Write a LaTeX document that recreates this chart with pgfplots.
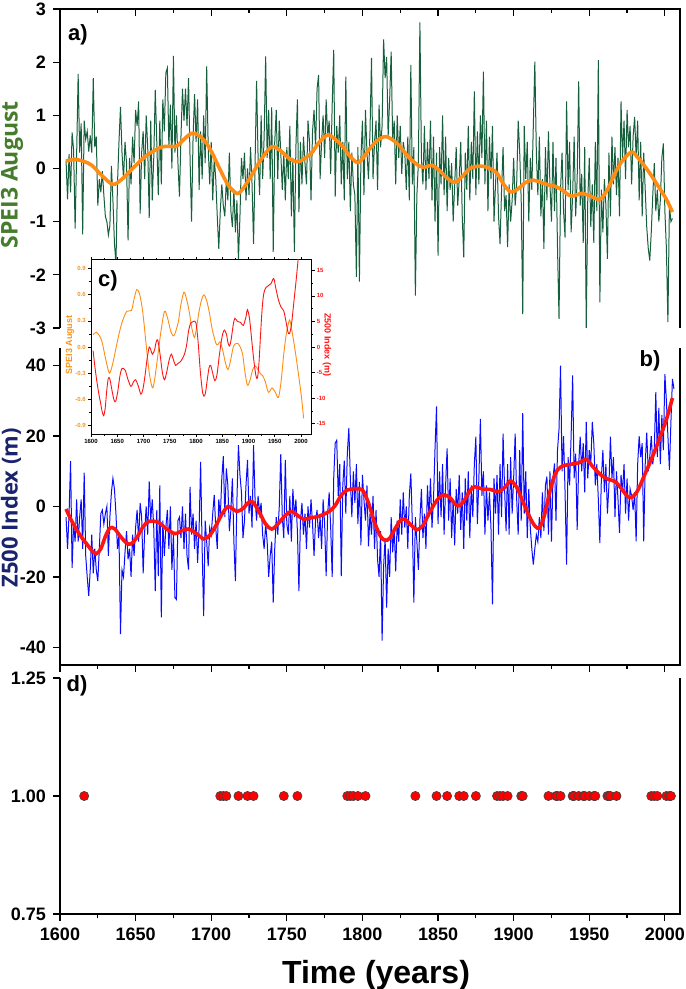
\documentclass[border=0pt]{standalone}
\usepackage{pgfplots}
\pgfplotsset{compat=1.18}
\usepackage{pgfplotstable}
\usepackage{fontspec}
\setmainfont{Liberation Sans}
\newfontfamily\osans{Open Sans}
\definecolor{spgreen}{RGB}{22,95,60}
\definecolor{sporange}{RGB}{255,140,20}
\definecolor{zred}{RGB}{255,20,20}
\definecolor{zblue}{RGB}{10,10,255}
\definecolor{lblgreen}{RGB}{70,125,45}
\definecolor{lblnavy}{RGB}{25,35,110}
\definecolor{inorange}{RGB}{247,148,29}

\pgfplotstableread{
x y
1604 0.14
1610 0.17
1616 0.13
1621 0.06
1628 -0.14
1635 -0.30
1641 -0.20
1647 -0.03
1653 0.14
1659 0.28
1668 0.41
1677 0.42
1682 0.55
1687 0.66
1692 0.62
1697 0.47
1701 0.27
1705 0.03
1711 -0.30
1717 -0.47
1721 -0.38
1726 -0.16
1733 0.17
1740 0.41
1746 0.33
1752 0.18
1758 0.13
1766 0.28
1771 0.48
1777 0.63
1782 0.55
1787 0.41
1792 0.22
1797 0.11
1801 0.22
1805 0.38
1810 0.53
1815 0.60
1820 0.54
1825 0.41
1831 0.20
1838 0.04
1842 0.03
1846 0.06
1851 -0.04
1856 -0.18
1861 -0.26
1866 -0.15
1871 0.00
1876 0.04
1880 0.04
1885 -0.01
1889 -0.09
1893 -0.28
1898 -0.44
1903 -0.38
1908 -0.26
1913 -0.22
1918 -0.26
1923 -0.31
1927 -0.33
1932 -0.40
1938 -0.52
1945 -0.47
1951 -0.52
1957 -0.58
1962 -0.40
1967 -0.09
1972 0.15
1978 0.31
1982 0.21
1987 0.03
1991 -0.13
1996 -0.35
2001 -0.58
2005 -0.82
}\smoothA

\pgfplotstableread{
x y
1604 -0.7
1607 -3.5
1611 -6.6
1615 -9.2
1618 -10.8
1621 -12.5
1624 -13.4
1627 -12
1630 -8.5
1633 -6.1
1636 -6.3
1640 -8.5
1644 -10.4
1647 -10.6
1651 -8.7
1655 -5.7
1659 -4.2
1665 -4.5
1670 -6.2
1676 -7.7
1681 -6.8
1685 -6.4
1690 -7.6
1695 -9.2
1699 -8.2
1703 -5.5
1707 -2.2
1711 0
1714 -0.6
1717 -1.4
1721 -0.6
1724 0.9
1727 1.4
1731 -1.0
1736 -5.0
1740 -6.4
1744 -5.0
1749 -2.5
1753 -1.4
1757 -2.5
1761 -3.6
1766 -3.2
1771 -2.8
1778 -1.4
1782 0.3
1786 3.2
1790 4.7
1795 5.0
1800 4.7
1804 1.0
1808 -4.5
1812 -8.5
1815 -9.6
1818 -9.0
1822 -6.0
1825 -4.0
1828 -3.6
1832 -5.2
1836 -6.6
1840 -5.4
1844 -2.0
1848 1.0
1851 2.6
1854 3.3
1858 2.5
1861 0.8
1864 0.2
1867 1.5
1871 4.4
1874 5.6
1879 5.0
1885 4.8
1890 4.2
1895 5.8
1898 7.3
1902 5.5
1906 1.5
1910 -2.5
1914 -5.5
1917 -6.1
1920 -3.0
1923 2.5
1926 7.5
1929 10.4
1933 11.6
1938 12.0
1943 12.4
1948 13.4
1952 11.5
1957 9.2
1962 7.8
1967 7.1
1971 5.2
1975 3.0
1978 2.6
1982 4.5
1987 9.4
1991 13.3
1996 18.8
2001 24.7
2005 30.8
}\smoothB

\pgfplotsset{
  base/.style={
    scale only axis, width=310pt, xmin=1600, xmax=2010,
    axis line style={draw=none},
    every tick/.style={black, line width=0.6pt},
    major tick length=3.5pt, minor tick length=1.8pt,
    ticklabel style={font=\bfseries\fontsize{9}{9}\selectfont},
    /pgf/number format/assume math mode=true,
    xtick={1600,1650,...,2000}, minor xtick={1625,1675,...,1975},
    ytick pos=left, ytick align=outside,
    clip=true,
  }
}

\begin{document}
\begin{tikzpicture}
% ---------------- panel a
\begin{axis}[base, name=pa, at={(0,0)}, anchor=north west, height=159.5pt,
  ymin=-3, ymax=3, ytick={-3,-2,...,3},
  xtick pos=right, xtick align=inside, xticklabels={}]
\addplot[spgreen, line width=0.5pt] coordinates {
(1604,0.15)(1605,-0.58)(1606,0.27)(1607,-0.45)(1608,0.68)(1609,0.35)
(1610,-1.13)(1611,0.25)(1612,1.78)(1613,0.3)(1614,0.85)(1615,-1.24)(1616,0.9)(1617,0.55)(1618,0.7)(1619,0.32)
(1620,0.62)(1621,0.3)(1622,1.7)(1623,0.4)(1624,0.6)(1625,-0.7)(1626,-0.2)(1627,-0.45)(1628,-0.05)(1629,-0.5)
(1630,-0.9)(1631,-1.0)(1632,-1.25)(1633,-1.07)(1634,0.05)(1635,-0.6)(1636,-1.4)(1637,-1.8)(1638,-0.3)(1639,0.5)
(1640,1.16)(1641,0.3)(1642,-0.2)(1643,0.5)(1644,0.1)(1645,-1.35)(1646,0.2)(1647,-0.3)(1648,0.6)(1649,0.1)
(1650,1.1)(1651,0.8)(1652,1.26)(1653,-0.85)(1654,0.3)(1655,0.7)(1656,-0.2)(1657,1.0)(1658,0.4)(1659,-0.93)
(1660,0.9)(1661,-0.6)(1662,0.2)(1663,1.48)(1664,0.5)(1665,-0.5)(1666,0.9)(1667,-0.3)(1668,1.3)(1669,0.7)
(1670,1.8)(1671,1.89)(1672,0.4)(1673,1.2)(1674,0.0)(1675,2.12)(1676,0.3)(1677,1.0)(1678,0.1)(1679,-0.53)
(1680,0.6)(1681,1.5)(1682,0.9)(1683,1.5)(1684,0.8)(1685,1.7)(1686,0.2)(1687,-1.0)(1688,0.6)(1689,1.4)
(1690,0.5)(1691,1.3)(1692,-0.4)(1693,0.7)(1694,-0.2)(1695,1.0)(1696,0.1)(1697,1.92)(1698,0.4)(1699,-0.3)
(1700,0.5)(1701,-0.6)(1702,0.2)(1703,-0.2)(1704,-0.9)(1705,-1.51)(1706,-0.8)(1707,-0.3)(1708,-0.7)(1709,-0.9)
(1710,-0.2)(1711,-0.6)(1712,0.3)(1713,-0.8)(1714,-1.1)(1715,-0.4)(1716,-1.2)(1717,-0.6)(1718,-1.73)(1719,-0.9)
(1720,0.2)(1721,-0.2)(1722,0.3)(1723,-0.6)(1724,0.0)(1725,-0.5)(1726,0.4)(1727,-0.3)(1728,-1.42)(1729,0.1)
(1730,1.65)(1731,0.2)(1732,-0.5)(1733,1.0)(1734,-0.2)(1735,0.6)(1736,2.11)(1737,0.2)(1738,1.1)(1739,-0.2)
(1740,1.15)(1741,-1.57)(1742,0.5)(1743,1.1)(1744,-0.2)(1745,0.9)(1746,0.3)(1747,-0.4)(1748,0.3)(1749,-0.6)
(1750,0.4)(1751,-0.2)(1752,0.8)(1753,-0.9)(1754,0.2)(1755,-1.57)(1756,0.4)(1757,1.3)(1758,-0.82)(1759,0.5)
(1760,-0.3)(1761,0.6)(1762,0.1)(1763,-0.3)(1764,0.9)(1765,0.5)(1766,-0.6)(1767,0.7)(1768,1.1)(1769,0.4)
(1770,1.5)(1771,1.76)(1772,-0.2)(1773,0.5)(1774,1.0)(1775,0.2)(1776,1.3)(1777,0.6)(1778,0.9)(1779,-0.1)
(1780,1.2)(1781,2.23)(1782,-0.53)(1783,0.8)(1784,0.3)(1785,1.0)(1786,-0.3)(1787,0.5)(1788,-0.6)(1789,1.73)
(1790,-0.2)(1791,0.5)(1792,-0.8)(1793,0.3)(1794,-0.3)(1795,-0.5)(1796,-2.04)(1797,0.4)(1798,-2.13)(1799,0.2)
(1800,0.9)(1801,-0.5)(1802,1.1)(1803,0.3)(1804,-0.2)(1805,0.7)(1806,2.08)(1807,-0.2)(1808,0.5)(1809,0.9)
(1810,-0.4)(1811,1.2)(1812,0.4)(1813,0.8)(1814,2.43)(1815,1.7)(1816,2.1)(1817,0.6)(1818,1.3)(1819,2.2)
(1820,0.5)(1821,0.9)(1822,-0.3)(1823,1.0)(1824,0.2)(1825,0.8)(1826,-0.1)(1827,0.5)(1828,0.3)(1829,-0.4)
(1830,0.6)(1831,-0.6)(1832,1.95)(1833,-0.3)(1834,0.4)(1835,-2.39)(1836,-0.5)(1837,0.1)(1838,2.75)(1839,0.2)
(1840,-0.3)(1841,0.8)(1842,-0.4)(1843,0.5)(1844,-0.2)(1845,0.9)(1846,-0.6)(1847,0.6)(1848,-1.0)(1849,0.3)
(1850,-1.64)(1851,0.4)(1852,-0.3)(1853,1.0)(1854,-0.5)(1855,0.6)(1856,-0.8)(1857,0.2)(1858,-0.4)(1859,0.1)
(1860,-1.0)(1861,-0.3)(1862,0.4)(1863,-0.7)(1864,-0.2)(1865,0.5)(1866,-0.9)(1867,-1.67)(1868,0.3)(1869,-0.4)
(1870,0.8)(1871,-0.6)(1872,0.5)(1873,-0.2)(1874,1.45)(1875,-0.5)(1876,0.7)(1877,-0.3)(1878,1.0)(1879,0.2)
(1880,1.82)(1881,-0.3)(1882,0.9)(1883,-0.8)(1884,0.6)(1885,-0.2)(1886,0.8)(1887,-1.0)(1888,-0.3)(1889,0.3)
(1890,-0.9)(1891,-1.42)(1892,-0.4)(1893,0.4)(1894,-0.8)(1895,-0.5)(1896,-1.48)(1897,-0.3)(1898,-1.0)(1899,-0.6)
(1900,0.2)(1901,-0.7)(1902,-0.3)(1903,0.9)(1904,0.3)(1905,-0.6)(1906,-2.74)(1907,0.8)(1908,-0.2)(1909,0.5)
(1910,-1.0)(1911,0.2)(1912,-0.4)(1913,0.8)(1914,2.01)(1915,0.3)(1916,-0.5)(1917,0.6)(1918,-0.9)(1919,-0.2)
(1920,-1.51)(1921,0.4)(1922,-0.6)(1923,0.7)(1924,-0.3)(1925,-1.0)(1926,0.5)(1927,-0.8)(1928,0.2)(1929,-1.5)
(1930,-2.83)(1931,-0.4)(1932,0.3)(1933,-0.8)(1934,-1.3)(1935,1.26)(1936,-0.4)(1937,0.5)(1938,-1.2)(1939,-0.5)
(1940,0.6)(1941,-0.9)(1942,-0.2)(1943,1.64)(1944,-0.7)(1945,-0.1)(1946,-1.4)(1947,0.4)(1948,-3.02)(1949,-0.6)
(1950,0.2)(1951,-1.1)(1952,-0.3)(1953,-1.4)(1954,0.5)(1955,-0.8)(1956,2.04)(1957,-2.52)(1958,-0.4)(1959,-1.2)
(1960,-0.2)(1961,-0.7)(1962,-1.7)(1963,0.3)(1964,-0.9)(1965,0.6)(1966,-0.3)(1967,0.4)(1968,-0.5)(1969,0.2)
(1970,-0.9)(1971,1.26)(1972,0.2)(1973,0.9)(1974,-0.2)(1975,1.1)(1976,0.4)(1977,0.8)(1978,-0.3)(1979,0.6)
(1980,0.97)(1981,0.2)(1982,0.9)(1983,-0.6)(1984,0.5)(1985,-0.9)(1986,0.3)(1987,-0.4)(1988,-1.1)(1989,-1.5)
(1990,-1.73)(1991,-1.2)(1992,-0.5)(1993,0.1)(1994,-0.8)(1995,-0.4)(1996,-1.0)(1997,-0.6)(1998,0.2)(1999,0.47)
(2000,-0.8)(2001,-1.5)(2002,-2.89)(2003,-0.7)(2004,-1.0)(2005,-0.94)
};
\addplot[sporange, line width=1.8pt, smooth] table {\smoothA};
\end{axis}

% ---------------- panel b
\begin{axis}[base, name=pb, at={(0,-169.5pt)}, anchor=north west, height=158.5pt,
  ymin=-45, ymax=45, ytick={-40,-20,...,40},
  xtick pos=left, xtick align=outside, xticklabels={}]
\addplot[zblue, line width=0.5pt] coordinates {
(1604,-3)(1605,-12)(1606,-2)(1607,12.9)(1608,-17.4)(1609,-5)
(1610,-10)(1611,2)(1612,-10)(1613,-3)(1614,2)(1615,-12)(1616,9.6)(1617,-14)(1618,-20)(1619,-25.4)
(1620,-18)(1621,-8)(1622,-19)(1623,-12)(1624,-18)(1625,-21.2)(1626,-12)(1627,-2)(1628,-1)(1629,-5)
(1630,-2)(1631,0)(1632,-14)(1633,-3)(1634,4)(1635,8)(1636,5)(1637,-2)(1638,-12)(1639,-8)
(1640,-36.2)(1641,-18)(1642,-20)(1643,-13)(1644,-7)(1645,-15)(1646,-12)(1647,-20)(1648,-8)(1649,-14)
(1650,-6)(1651,-1)(1652,-10)(1653,1)(1654,-3)(1655,-19)(1656,-7)(1657,0)(1658,-8)(1659,7.1)
(1660,-4)(1661,2)(1662,-6)(1663,-24)(1664,-1)(1665,-19.8)(1666,6)(1667,-31.5)(1668,-4)(1669,-14)
(1670,-6)(1671,-1)(1672,-12)(1673,0)(1674,-18)(1675,-8)(1676,-25.9)(1677,-26.4)(1678,-4)(1679,-3)
(1680,-9)(1681,0)(1682,-12)(1683,-2)(1684,-14)(1685,-17.9)(1686,5.6)(1687,-8)(1688,-2)(1689,-12)
(1690,-4)(1691,-16)(1692,-6)(1693,12.7)(1694,-12)(1695,-31.1)(1696,-4)(1697,-10)(1698,-17)(1699,-6)
(1700,-8)(1701,-2)(1702,3.3)(1703,-6)(1704,-12)(1705,2)(1706,-3)(1707,8)(1708,14.3)(1709,-3)
(1710,10.8)(1711,6)(1712,-7)(1713,-1)(1714,8)(1715,-10)(1716,-21.2)(1717,2)(1718,17.4)(1719,9)
(1720,4)(1721,-9)(1722,-4)(1723,6)(1724,13.2)(1725,-2)(1726,3)(1727,-6)(1728,17.4)(1729,2)
(1730,-4)(1731,3)(1732,-2)(1733,1)(1734,-8)(1735,-12)(1736,-5)(1737,-10)(1738,-20)(1739,-14)
(1740,-10)(1741,-27.3)(1742,-12)(1743,-3)(1744,-8)(1745,0)(1746,14.9)(1747,-3)(1748,-9)(1749,13.2)
(1750,-5)(1751,-8)(1752,3)(1753,-10)(1754,5)(1755,-3)(1756,2)(1757,-7)(1758,-24)(1759,-4)
(1760,1)(1761,-8)(1762,-2)(1763,-12)(1764,0)(1765,-6)(1766,2)(1767,-5)(1768,-14)(1769,-4)
(1770,-1)(1771,-9)(1772,-3)(1773,-12)(1774,2)(1775,-5)(1776,-19.8)(1777,-2)(1778,4)(1779,-6)
(1780,-20)(1781,8)(1782,18)(1783,18.8)(1784,3)(1785,12)(1786,-19.8)(1787,6)(1788,13)(1789,-2)
(1790,15)(1791,22.3)(1792,8)(1793,-3)(1794,10)(1795,1)(1796,12)(1797,-5)(1798,7)(1799,-11)
(1800,9)(1801,2)(1802,-4)(1803,6)(1804,-11.3)(1805,-2)(1806,-8)(1807,3)(1808,-12)(1809,-1)
(1810,-15)(1811,-20)(1812,-7)(1813,-38.1)(1814,-17)(1815,-9)(1816,-28.7)(1817,-12)(1818,-20)(1819,-3)
(1820,-13)(1821,-6)(1822,-18.4)(1823,-4)(1824,-10)(1825,2)(1826,-8)(1827,4)(1828,-6)(1829,0)
(1830,-12)(1831,3)(1832,9.4)(1833,-5)(1834,-27.3)(1835,-3)(1836,-10)(1837,-18)(1838,-4)(1839,5)
(1840,-9)(1841,-2)(1842,-12)(1843,6)(1844,-3)(1845,8)(1846,-6)(1847,2)(1848,16.5)(1849,28.4)
(1850,-5)(1851,10)(1852,-3)(1853,12)(1854,-8)(1855,6)(1856,16.5)(1857,-4)(1858,8)(1859,-9)
(1860,2)(1861,-11)(1862,5)(1863,-2)(1864,9)(1865,-6.6)(1866,4)(1867,-12)(1868,8)(1869,-4)
(1870,10)(1871,-9)(1872,6)(1873,-3)(1874,12)(1875,19.8)(1876,-5)(1877,8)(1878,24.9)(1879,3)
(1880,10)(1881,-8)(1882,6)(1883,-4)(1884,4)(1885,-6)(1886,-27.8)(1887,8)(1888,-2)(1889,9)
(1890,-8)(1891,12)(1892,-3)(1893,20.7)(1894,5)(1895,-7)(1896,12)(1897,-8)(1898,14)(1899,-2)
(1900,8)(1901,20.7)(1902,2)(1903,-8)(1904,16)(1905,-4)(1906,26.5)(1907,-2)(1908,10)(1909,-9)
(1910,5)(1911,-6)(1912,-12)(1913,-16.5)(1914,-12)(1915,-8)(1916,-10)(1917,-3)(1918,-9)(1919,4)
(1920,-7)(1921,6)(1922,8.5)(1923,-8)(1924,10)(1925,-10)(1926,8)(1927,12.2)(1928,-4)(1929,16)
(1930,22)(1931,40)(1932,10)(1933,20)(1934,4)(1935,-16.5)(1936,14)(1937,6)(1938,20)(1939,37.2)
(1940,8)(1941,15)(1942,-6.6)(1943,12)(1944,19.8)(1945,10)(1946,18)(1947,4)(1948,24)(1949,8)
(1950,16)(1951,12)(1952,24)(1953,18)(1954,6)(1955,12)(1956,2)(1957,-10.4)(1958,8)(1959,16)
(1960,4)(1961,12)(1962,-2)(1963,6)(1964,19.8)(1965,8)(1966,14)(1967,-3)(1968,10)(1969,2)
(1970,-7.5)(1971,9)(1972,4)(1973,12)(1974,-2)(1975,8)(1976,-4)(1977,5)(1978,3)(1979,-1)
(1980,4)(1981,-9.9)(1982,12)(1983,20)(1984,14)(1985,18)(1986,-9.9)(1987,12)(1988,21)(1989,10)
(1990,14)(1991,20)(1992,12)(1993,16)(1994,32.5)(1995,14)(1996,28)(1997,12)(1998,26)(1999,16)
(2000,37.6)(2001,30)(2002,20)(2003,10.4)(2004,24)(2005,36.2)(2006,33.4)
};
\addplot[zred, line width=1.8pt, smooth] table {\smoothB};
\end{axis}

% ---------------- panel d
\begin{axis}[base, name=pd, at={(0,-334.5pt)}, anchor=north west, height=118pt,
  ymin=0.75, ymax=1.25, ytick={0.75,1,1.25},
  yticklabel style={/pgf/number format/.cd, fixed, fixed zerofill, precision=2},
  xtick pos=left, xtick align=outside,
  xticklabel style={/pgf/number format/1000 sep={}},
  clip=false]
\addplot[only marks, mark=*, mark size=2.3pt,
  mark options={fill=red, draw=black!75, line width=0.3pt}] coordinates {
(1616,1)(1706,1)(1708,1)(1710,1)(1718,1)(1724,1)(1728,1)(1748,1)(1757,1)
(1790,1)(1792,1)(1794,1)(1797,1)(1802,1)(1835,1)(1849,1)(1856,1)(1864,1)
(1867,1)(1875,1)(1889,1)(1891,1)(1893,1)(1896,1)(1905,1)(1906,1)(1923,1)
(1928,1)(1929,1)(1931,1)(1939,1)(1940,1)(1943,1)(1946,1)(1947,1)(1950,1)
(1953,1)(1954,1)(1962,1)(1963,1)(1964,1)(1968,1)(1991,1)(1993,1)(1995,1)
(2001,1)(2003,1)(2004,1)
};
\end{axis}

% axis frames
\draw[line width=0.75pt] (pa.south west) -- (pa.north west) -- (pa.north east) -- (pa.south east);
\draw[line width=0.75pt] (pb.north west) -- (pb.south west) -- (pb.south east) -- (pb.north east);
\draw[line width=0.75pt] (pd.north west) -- (pd.south west) -- (pd.south east) -- (pd.north east);

% ---------------- inset c
\begin{axis}[name=pc, at={(15.5pt,-125.5pt)}, anchor=north west,
  scale only axis, width=110.25pt, height=87pt,
  xmin=1600, xmax=2020, ymin=-1, ymax=1,
  axis background/.style={fill=white},
  axis line style={line width=0.5pt},
  every tick/.style={black, line width=0.3pt},
  major tick length=1.5pt, minor tick length=0.8pt,
  tick align=outside,
  xtick={1600,1650,...,2000}, minor x tick num=1,
  ytick={-0.9,-0.6,...,0.9}, minor y tick num=1,
  xtick pos=both, ytick pos=left,
  /pgf/number format/assume math mode=true,
  ticklabel style={font=\bfseries\fontsize{3}{3}\selectfont, inner sep=1pt},
  xticklabel style={/pgf/number format/1000 sep={}},
  yticklabel style={color=inorange, /pgf/number format/.cd, fixed, fixed zerofill, precision=1}]
\addplot[sporange, line width=0.45pt, smooth] table {\smoothA};
\end{axis}
\begin{axis}[at={(15.5pt,-125.5pt)}, anchor=north west,
  scale only axis, width=110.25pt, height=87pt,
  xmin=1600, xmax=2020, ymin=-17, ymax=17,
  hide x axis, axis y line*=right, axis line style={draw=none},
  every tick/.style={black, line width=0.3pt},
  major tick length=1.5pt, minor tick length=0.8pt,
  tick align=outside,
  ytick={-15,-10,...,15}, minor y tick num=1,
  /pgf/number format/assume math mode=true,
  ticklabel style={font=\bfseries\fontsize{3}{3}\selectfont, inner sep=1pt},
  yticklabel style={color=zred}]
\addplot[zred, line width=0.45pt, smooth] table {\smoothB};
\end{axis}
\node[rotate=90, font=\bfseries\fontsize{4.5}{4.5}\selectfont, text=inorange] at (5pt,-168pt) {SPEI3 August};
\node[rotate=-90, font=\bfseries\fontsize{4.5}{4.5}\selectfont, text=zred] at (133.5pt,-168pt) {Z500 Index (m)};

% ---------------- labels
\node[rotate=90, font=\osans\bfseries\fontsize{11.5}{11.5}\selectfont, text=lblgreen] at (-24pt,-83pt) {SPEI3 August};
\node[rotate=90, font=\osans\bfseries\fontsize{11}{11}\selectfont, text=lblnavy] at (-24.5pt,-249.5pt) {Z500 Index (m)};
\node[font=\bfseries\fontsize{16}{16}\selectfont] at (158pt,-483pt) {Time (years)};
\node[font=\bfseries\fontsize{11}{11}\selectfont] at (9pt,-13pt) {a)};
\node[font=\bfseries\fontsize{11}{11}\selectfont] at (295pt,-176pt) {b)};
\node[font=\bfseries\fontsize{11}{11}\selectfont] at (24pt,-136pt) {c)};
\node[font=\bfseries\fontsize{11}{11}\selectfont] at (8.5pt,-338.5pt) {d)};

\pgfresetboundingbox
\path[use as bounding box] (-30pt,4.5pt) rectangle (312.5pt,-490pt);
\end{tikzpicture}
\end{document}
